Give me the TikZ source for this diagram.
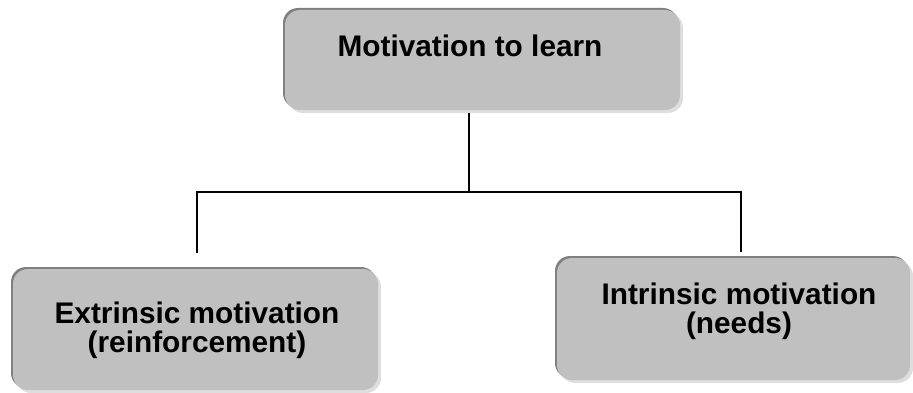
\documentclass[tikz,border=0pt]{standalone}
\usepackage{fontspec}
\setmainfont{Liberation Sans}
\usetikzlibrary{positioning, shadows}
\definecolor{boxgray}{HTML}{C0C0C0}
\definecolor{edgedark}{HTML}{808080}
\definecolor{shadelight}{HTML}{DEDEDE}
\tikzset{
  mot box/.style={
    rectangle, rounded corners=15pt, fill=boxgray, draw=none,
    inner sep=0pt,
    general shadow={shadow xshift=3pt, shadow yshift=-3pt, fill=shadelight},
    general shadow={shadow xshift=-2pt, shadow yshift=2pt, fill=edgedark}
  },
  mot text/.style={
    font=\fontsize{29.8}{28.8}\selectfont\bfseries,
    align=center, inner sep=0pt
  },
  mot line/.style={
    line width=1.6pt, draw=black
  }
}

\begin{document}
\begin{tikzpicture}[x=1pt, y=1pt]
  \useasboundingbox (0,0) rectangle (913,392);

  % boxes
  \node (learn) [mot box, minimum width=395pt, minimum height=100pt] at (482.5,332) {};
  \node (extr) [mot box, minimum width=365pt, minimum height=121pt] at (195.5,62.5) {};
  \node (intr) [mot box, minimum width=353pt, minimum height=122pt] at (733.5,73) {};

  % labels (base = last line)
  \node (learn text) [mot text, anchor=base] at (470,335) {Motivation to learn};
  \node (extr text) [mot text, anchor=base] at (197,40) {Extrinsic motivation\\(reinforcement)};
  \node (intr text) [mot text, anchor=base] at (739,59) {Intrinsic motivation\\(needs)};

  % tree lines
  \coordinate (bus) at (469,200);
  \coordinate (extr top) at (197,139);
  \coordinate (intr top) at (741,140);
  \draw [mot line] ([yshift=-3pt]learn.south -| bus) -- (bus);
  \draw [mot line] (extr top) |- (bus) -| (intr top);
\end{tikzpicture}
\end{document}
